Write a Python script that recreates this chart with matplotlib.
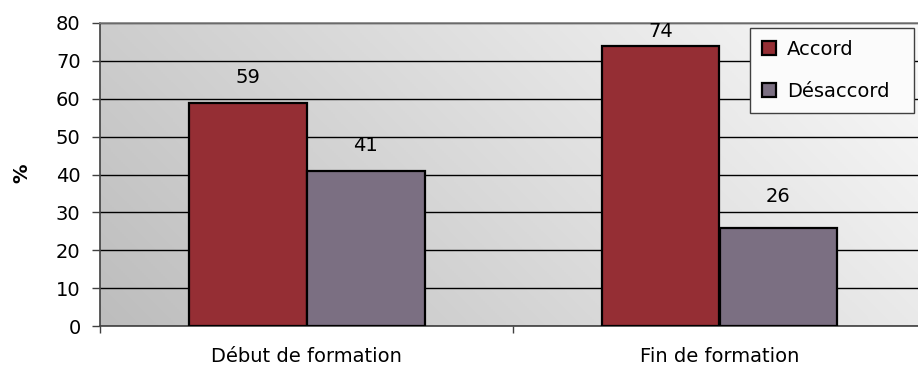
import numpy as np
import matplotlib
matplotlib.use("Agg")
import matplotlib.pyplot as plt
from matplotlib.colors import LinearSegmentedColormap

# Survey results (%)
categories = ["Début de formation", "Fin de formation"]
series_names = ["Accord", "Désaccord"]
accord = [59, 74]
desaccord = [41, 26]
y_ticks = [0, 10, 20, 30, 40, 50, 60, 70, 80]

# Vertical offsets (points) of the value label centres above each bar
label_offsets_accord = [18, 10]
label_offsets_desaccord = [18, 22]

colors = ["#952e34", "#7b6f82"]
FONT = "DejaVu Sans"
FS = 14

W, H, DPI = 918, 365, 100
plt.rcParams["font.family"] = [FONT]
fig = plt.figure(figsize=(W / DPI, H / DPI), dpi=DPI)
fig.patch.set_facecolor("white")
ax = fig.add_axes([100 / W, 39 / H, 826 / W, 303 / H])

# Diagonal grey-to-white plot background
nx, ny = 400, 150
gx, gy = np.meshgrid(np.linspace(0, 1, nx), np.linspace(0, 1, ny))
grad = (gx * 826 + gy * 303) / (826 + 303)
cmap = LinearSegmentedColormap.from_list("bg", ["#bdbdbd", "#fafafa"])
ax.imshow(grad, extent=(-0.5, 1.5, 0, 80), origin="lower", aspect="auto",
          cmap=cmap, zorder=0, interpolation="bilinear")

x = np.arange(len(categories))
w = 2 / 7
b1 = ax.bar(x - w / 2, accord, w, color=colors[0], edgecolor="black",
            linewidth=1.6, label=series_names[0], zorder=3)
b2 = ax.bar(x + w / 2, desaccord, w, color=colors[1], edgecolor="black",
            linewidth=1.6, label=series_names[1], zorder=3)

for rect, v, off in zip(b1, accord, label_offsets_accord):
    ax.annotate(f"{v}", (rect.get_x() + rect.get_width() / 2, v),
                xytext=(0, off), textcoords="offset points",
                ha="center", va="center", fontsize=FS, zorder=5)
for rect, v, off in zip(b2, desaccord, label_offsets_desaccord):
    ax.annotate(f"{v}", (rect.get_x() + rect.get_width() / 2, v),
                xytext=(0, off), textcoords="offset points",
                ha="center", va="center", fontsize=FS, zorder=5)

ax.set_xlim(-0.5, 1.5)
ax.set_ylim(0, 80)
ax.set_yticks(y_ticks)
ax.set_yticklabels([str(t) for t in y_ticks], fontsize=FS)
ax.yaxis.grid(True, color="black", linewidth=1, zorder=1)
ax.set_axisbelow(True)

ax.set_xticks(x)
ax.set_xticklabels(categories, fontsize=FS)
ax.set_xticks([-0.5, 0.5, 1.5], minor=True)
ax.tick_params(axis="x", which="major", length=0, pad=15)
ax.tick_params(axis="x", which="minor", length=5, direction="out",
               color="#404040", width=1)
ax.tick_params(axis="y", length=6, direction="out", color="#404040",
               width=1, pad=8)

for side in ("left", "bottom"):
    ax.spines[side].set_color("#404040")
    ax.spines[side].set_linewidth(1.2)
ax.spines["top"].set_color("#808080")
ax.spines["top"].set_linewidth(1.2)
ax.spines["right"].set_visible(False)

fig.text(22 / W, 1 - 173 / H, "%", rotation=90, fontsize=FS,
         fontweight="bold", ha="center", va="center")

leg = ax.legend(loc="upper left",
                bbox_to_anchor=(750 / W, 1 - 114 / H, 164 / W, 86 / H),
                bbox_transform=fig.transFigure, mode="expand", fontsize=FS,
                fancybox=False, framealpha=1, facecolor="#fbfbfb",
                edgecolor="#404040", handlelength=0.75, handleheight=0.75,
                handletextpad=0.55, labelspacing=1.2, borderpad=0.6,
                borderaxespad=0)
leg.get_frame().set_linewidth(1)
leg.set_zorder(6)

fig.savefig("out.png", dpi=DPI)
